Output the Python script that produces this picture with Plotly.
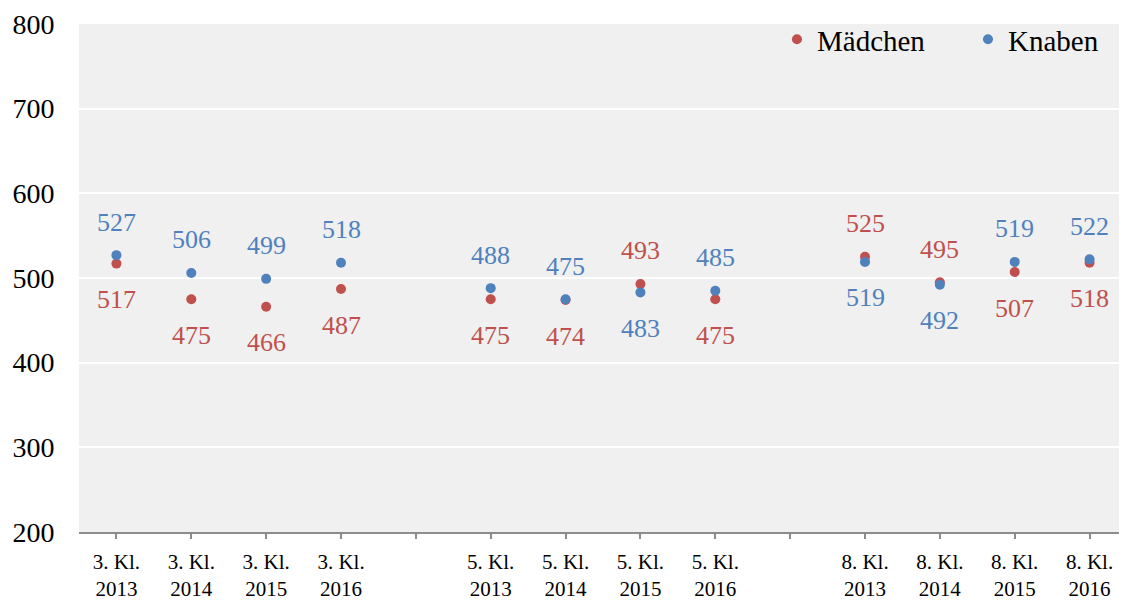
import plotly.graph_objects as go

categories = ["3. Kl.<br>2013", "3. Kl.<br>2014", "3. Kl.<br>2015", "3. Kl.<br>2016", "",
              "5. Kl.<br>2013", "5. Kl.<br>2014", "5. Kl.<br>2015", "5. Kl.<br>2016", "",
              "8. Kl.<br>2013", "8. Kl.<br>2014", "8. Kl.<br>2015", "8. Kl.<br>2016"]
maedchen = [517, 475, 466, 487, None, 475, 474, 493, 475, None, 525, 495, 507, 518]
knaben = [527, 506, 499, 518, None, 488, 475, 483, 485, None, 519, 492, 519, 522]
y_ticks = [200, 300, 400, 500, 600, 700, 800]

RED = "#C0504D"
BLUE = "#4F81BD"
FONT = "Liberation Serif"

xs = list(range(len(categories)))

fig = go.Figure()
fig.add_trace(go.Scatter(x=xs, y=maedchen, mode="markers", name="Mädchen",
                         marker=dict(color=RED, size=10)))
fig.add_trace(go.Scatter(x=xs, y=knaben, mode="markers", name="Knaben",
                         marker=dict(color=BLUE, size=10)))

annotations = []
for i, (m, k) in enumerate(zip(maedchen, knaben)):
    if m is None or k is None:
        continue
    k_above = k >= m
    for val, col, above in ((m, RED, not k_above), (k, BLUE, k_above)):
        annotations.append(dict(x=i, y=val, text=str(val), showarrow=False,
                                yshift=33 if above else -36,
                                font=dict(family=FONT, size=26, color=col)))

fig.update_layout(
    width=1119, height=593,
    margin=dict(l=71, r=0, t=16, b=69, autoexpand=False),
    paper_bgcolor="white",
    plot_bgcolor="#F0F0F0",
    font=dict(family=FONT, color="black"),
    showlegend=True,
    legend=dict(orientation="h", x=0.666, xanchor="left", y=1.02, yanchor="top",
                bgcolor="rgba(0,0,0,0)", font=dict(family=FONT, size=29),
                itemwidth=30, entrywidth=146, entrywidthmode="pixels"),
    annotations=annotations,
    xaxis=dict(range=[-0.5, len(categories) - 0.5], tickmode="array", tickvals=xs,
               ticktext=categories, showgrid=False, zeroline=False, automargin=False,
               showline=True, linecolor="#8C8C8C", linewidth=1.5,
               ticks="outside", ticklen=5, tickcolor="#8C8C8C", tickwidth=1.5,
               ticklabelstandoff=5,
               tickfont=dict(family=FONT, size=21)),
    yaxis=dict(range=[200, 800], tickmode="array", tickvals=y_ticks, automargin=False,
               showgrid=True, gridcolor="white", gridwidth=2, zeroline=False,
               showline=False, ticks="outside", ticklen=18, tickcolor="rgba(0,0,0,0)",
               tickfont=dict(family=FONT, size=28)),
)

fig.write_html("out.html")
